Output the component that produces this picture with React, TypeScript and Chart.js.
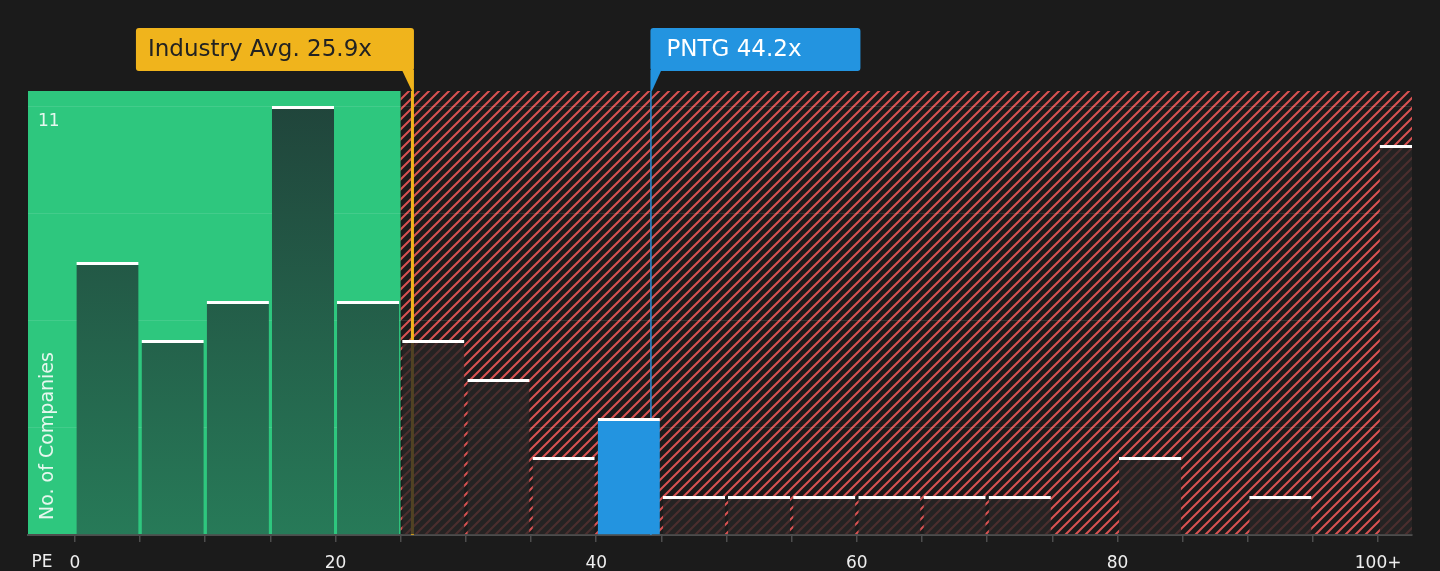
import React, { useEffect, useRef } from "react";
import { Chart, registerables } from "chart.js";

Chart.register(...registerables);

// ---- data ----
const binStarts = [0, 5, 10, 15, 20, 25, 30, 35, 40, 45, 50, 55, 60, 65, 70, 75, 80, 85, 90, 95, 100];
const binCounts = [7, 5, 6, 11, 6, 5, 4, 2, 3, 1, 1, 1, 1, 1, 1, 0, 2, 0, 1, 0, 10];
const binWidth = 5;
const xTickValues = [0, 5, 10, 15, 20, 25, 30, 35, 40, 45, 50, 55, 60, 65, 70, 75, 80, 85, 90, 95, 100];
const xLabelledTicks = [0, 20, 40, 60, 80, 100];
const xLabelledText = ["0", "20", "40", "60", "80", "100+"];
const yGridValues = [0, 2.75, 5.5, 8.25, 11];
const yLabelValues = [11];
const industryAvg = 25.9;
const companyPE = 44.2;
const companyName = "PNTG";
const fairZoneEnd = 25;
const xMin = -3.6;
const xMax = 102.6;
const yMax = 11.385;

const FONT = "'DejaVu Sans', sans-serif";

function makeHatch(): CanvasPattern | string {
  const s = 10;
  const c = document.createElement("canvas");
  c.width = s;
  c.height = s;
  const g = c.getContext("2d");
  if (!g) return "#5a2a2a";
  g.fillStyle = "#1b1b1b";
  g.fillRect(0, 0, s, s);
  g.strokeStyle = "#d85252";
  g.lineWidth = 2;
  g.beginPath();
  g.moveTo(-1, s + 1);
  g.lineTo(s + 1, -1);
  g.moveTo(-2, 2);
  g.lineTo(2, -2);
  g.moveTo(s - 2, s + 2);
  g.lineTo(s + 2, s - 2);
  g.stroke();
  const p = g.createPattern(c, "repeat");
  return p || "#5a2a2a";
}

export default function App() {
  const ref = useRef<HTMLCanvasElement | null>(null);

  useEffect(() => {
    const canvas = ref.current;
    if (!canvas) return;
    Chart.defaults.font.family = FONT;
    const hatch = makeHatch();

    const bgPlugin = {
      id: "bgZones",
      beforeDraw(chart: any) {
        const { ctx, chartArea: a, scales } = chart;
        const x = scales.x;
        ctx.save();
        ctx.fillStyle = "#1b1b1b";
        ctx.fillRect(0, 0, chart.width, chart.height);
        const gx = x.getPixelForValue(fairZoneEnd);
        ctx.fillStyle = "#2ec77e";
        ctx.fillRect(a.left, a.top, gx - a.left, a.bottom - a.top);
        ctx.fillStyle = hatch as any;
        ctx.fillRect(gx, a.top, a.right - gx, a.bottom - a.top);
        ctx.restore();
      },
      beforeDatasetsDraw(chart: any) {
        const { ctx, chartArea: a, scales } = chart;
        const x = scales.x;
        ctx.save();
        const lx = x.getPixelForValue(industryAvg);
        ctx.strokeStyle = "#f0b41c";
        ctx.lineWidth = 3;
        ctx.beginPath();
        ctx.moveTo(lx, a.top);
        ctx.lineTo(lx, a.bottom);
        ctx.stroke();
        const bx = x.getPixelForValue(companyPE);
        ctx.strokeStyle = "#2f8fd8";
        ctx.lineWidth = 1.5;
        ctx.beginPath();
        ctx.moveTo(bx, a.top);
        ctx.lineTo(bx, a.bottom);
        ctx.stroke();
        ctx.restore();
      },
      afterDraw(chart: any) {
        const { ctx, chartArea: a, scales } = chart;
        const x = scales.x;
        ctx.save();
        // industry avg label box
        const lx = x.getPixelForValue(industryAvg);
        const gRight = lx + 1.5;
        const gLeft = gRight - 278;
        const top = 28;
        const bot = 71;
        ctx.fillStyle = "#f0b41c";
        ctx.beginPath();
        ctx.roundRect(gLeft, top, gRight - gLeft, bot - top, 3);
        ctx.fill();
        ctx.beginPath();
        ctx.moveTo(gRight - 12, bot - 1);
        ctx.lineTo(gRight, bot - 1);
        ctx.lineTo(gRight, a.top);
        ctx.lineTo(gRight - 2, a.top);
        ctx.closePath();
        ctx.fill();
        ctx.fillStyle = "#222222";
        ctx.font = `23px ${FONT}`;
        ctx.textAlign = "left";
        ctx.textBaseline = "middle";
        ctx.fillText(`Industry Avg. ${industryAvg}x`, gLeft + 12, 50);

        // company label box
        const bx = x.getPixelForValue(companyPE);
        const bLeft = bx - 0.5;
        ctx.fillStyle = "#2394e0";
        ctx.beginPath();
        ctx.roundRect(bLeft, top, 210, bot - top, 3);
        ctx.fill();
        ctx.beginPath();
        ctx.moveTo(bLeft, bot - 1);
        ctx.lineTo(bLeft + 11, bot - 1);
        ctx.lineTo(bLeft + 1.5, a.top);
        ctx.lineTo(bLeft, a.top);
        ctx.closePath();
        ctx.fill();
        ctx.fillStyle = "#ffffff";
        ctx.fillText(`${companyName} ${companyPE}x`, bLeft + 16, 50);

        // y axis title inside chart
        ctx.save();
        ctx.translate(48, 520);
        ctx.rotate(-Math.PI / 2);
        ctx.fillStyle = "#e6f7ee";
        ctx.font = `19px ${FONT}`;
        ctx.textAlign = "left";
        ctx.textBaseline = "middle";
        ctx.fillText("No. of Companies", 0, 0);
        ctx.restore();

        // "PE" x label
        ctx.fillStyle = "#eeeeee";
        ctx.font = `17px ${FONT}`;
        ctx.textAlign = "center";
        ctx.textBaseline = "middle";
        ctx.fillText("PE", 42, 563);
        ctx.restore();
      },
    };

    const barData = binStarts.map((s, i) => ({
      x: s + binWidth / 2,
      y: binCounts[i] > 0 ? binCounts[i] : null,
    }));

    const chart = new Chart(canvas, {
      type: "bar",
      data: {
        datasets: [
          {
            data: barData as any,
            backgroundColor: (c: any) => {
              const i = c.dataIndex;
              const s = binStarts[i];
              if (s + binWidth <= fairZoneEnd) {
                const area = c.chart.chartArea;
                if (!area) return "#245f48";
                const g = c.chart.ctx.createLinearGradient(0, area.top, 0, area.bottom);
                g.addColorStop(0, "#20433a");
                g.addColorStop(1, "#277a58");
                return g;
              }
              if (companyPE >= s && companyPE < s + binWidth) return "#2394e0";
              return "rgba(40,37,37,0.8)";
            },
            borderColor: "#ffffff",
            borderWidth: { top: 3, left: 0, right: 0, bottom: 0 } as any,
            borderSkipped: false,
            barPercentage: 0.955,
            categoryPercentage: 1,
          },
        ],
      },
      options: {
        animation: false,
        responsive: false,
        maintainAspectRatio: false,
        layout: { padding: { left: 28, right: 28, top: 91, bottom: 0 } },
        plugins: { legend: { display: false }, tooltip: { enabled: false } },
        scales: {
          x: {
            type: "linear",
            offset: false,
            min: xMin,
            max: xMax,
            afterBuildTicks: (scale: any) => {
              scale.ticks = xTickValues.map((v) => ({ value: v }));
            },
            afterFit: (scale: any) => {
              scale.height = 36;
              scale.paddingLeft = 0;
              scale.paddingRight = 0;
            },
            grid: {
              offset: false,
              drawOnChartArea: false,
              color: "#4d4d4d",
              tickLength: 7,
              lineWidth: 1.5,
            },
            border: { display: true, color: "#4d4d4d", width: 2 },
            ticks: {
              autoSkip: false,
              maxRotation: 0,
              padding: 11,
              color: "#eeeeee",
              font: { size: 17, family: FONT },
              callback: (v: any) => {
                const idx = xLabelledTicks.indexOf(Number(v));
                return idx >= 0 ? xLabelledText[idx] : "";
              },
            },
          },
          y: {
            type: "linear",
            min: 0,
            max: yMax,
            afterBuildTicks: (scale: any) => {
              scale.ticks = yGridValues.map((v) => ({ value: v }));
            },
            afterFit: (scale: any) => {
              scale.width = 0;
              scale.paddingTop = 0;
              scale.paddingBottom = 0;
            },
            grid: { color: "rgba(255,255,255,0.1)", drawTicks: false, lineWidth: 1 },
            border: { display: false },
            ticks: {
              mirror: true,
              padding: 10,
              labelOffset: 16,
              color: "#e6f7ee",
              font: { size: 17, family: FONT },
              callback: (v: any) => (yLabelValues.includes(Number(v)) ? String(v) : ""),
            },
          },
        },
      },
      plugins: [bgPlugin],
    });

    return () => chart.destroy();
  }, []);

  return (
    <div style={{ position: "absolute", left: 0, top: 0, width: 1440, height: 571, background: "#1b1b1b" }}>
      <canvas ref={ref} width={1440} height={571} style={{ display: "block", width: 1440, height: 571 }} />
    </div>
  );
}
